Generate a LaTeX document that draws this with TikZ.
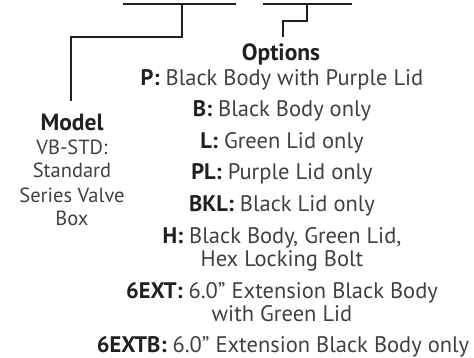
\documentclass[tikz,border=0pt]{standalone}
\usepackage{fontspec}
\setmainfont{PT Sans}
\usetikzlibrary{calc}
\usetikzlibrary{positioning}

\definecolor{ink}{HTML}{231F20}
\definecolor{txt}{HTML}{404040}
\tikzset{
  entry/.style={align=center,anchor=base,inner sep=0pt,text=txt,font=\fontsize{22.5}{23}\selectfont},
  head/.style={entry,font=\fontsize{20.5}{24}\selectfont},
  lead/.style={draw=ink,line width=1.3pt},
  blank/.style={draw=ink,line width=2.8pt},
}
\newcommand{\optcode}[1]{\textbf{\color{ink}#1:}}
\newcommand{\colhead}[1]{{\fontsize{23.5}{24}\selectfont\textbf{\color{ink}#1}}}

\begin{document}
\begin{tikzpicture}[x=1pt,y=-1pt]
  \useasboundingbox (0,0) rectangle (474,358);

  % the two blanks of the part number
  \coordinate (Mbar_w) at (123,4);
  \coordinate (Mbar_e) at (236,4);
  \coordinate (Obar_w) at (263,4);
  \coordinate (Obar_e) at (352,4);
  \path [blank] (Mbar_w) -- (Mbar_e) (Obar_w) -- (Obar_e);

  % model column
  \node [head] (Mlab) at (72,226) {\colhead{Model}\\VB-STD:\\Standard\\Series Valve\\Box};

  % options column
  \node [head] (Olab) at (281,61) {\colhead{Options}};
  \node [entry] (Op)     at (282,86)  {\optcode{P} Black Body with Purple Lid};
  \node [entry] (Ob)     at (282,117) {\optcode{B} Black Body only};
  \node [entry] (Ol)     at (282,149) {\optcode{L} Green Lid only};
  \node [entry] (Opl)    at (282,180) {\optcode{PL} Purple Lid only};
  \node [entry] (Obkl)   at (282,212) {\optcode{BKL} Black Lid only};
  \node [entry] (Oh)     at (282,266) {\optcode{H} Black Body, Green Lid,\\Hex Locking Bolt};
  \node [entry] (Oext)   at (282,321) {\optcode{6EXT} 6.0" Extension Black Body\\with Green Lid};
  \node [entry] (Oextb)  at (283,352) {\optcode{6EXTB} 6.0" Extension Black Body only};

  % leaders from the blanks down to the columns
  \coordinate (Mstem) at (182,37);
  \coordinate (Mtop) at (71,101);
  \coordinate (Ostem) at (307,21);
  \coordinate (Otop) at (283,37);
  \path [lead] (Mstem |- Mbar_w) -- (Mstem) -| (Mtop);
  \path [lead] (Ostem |- Obar_w) -- (Ostem) -| (Otop);

\end{tikzpicture}
\end{document}
